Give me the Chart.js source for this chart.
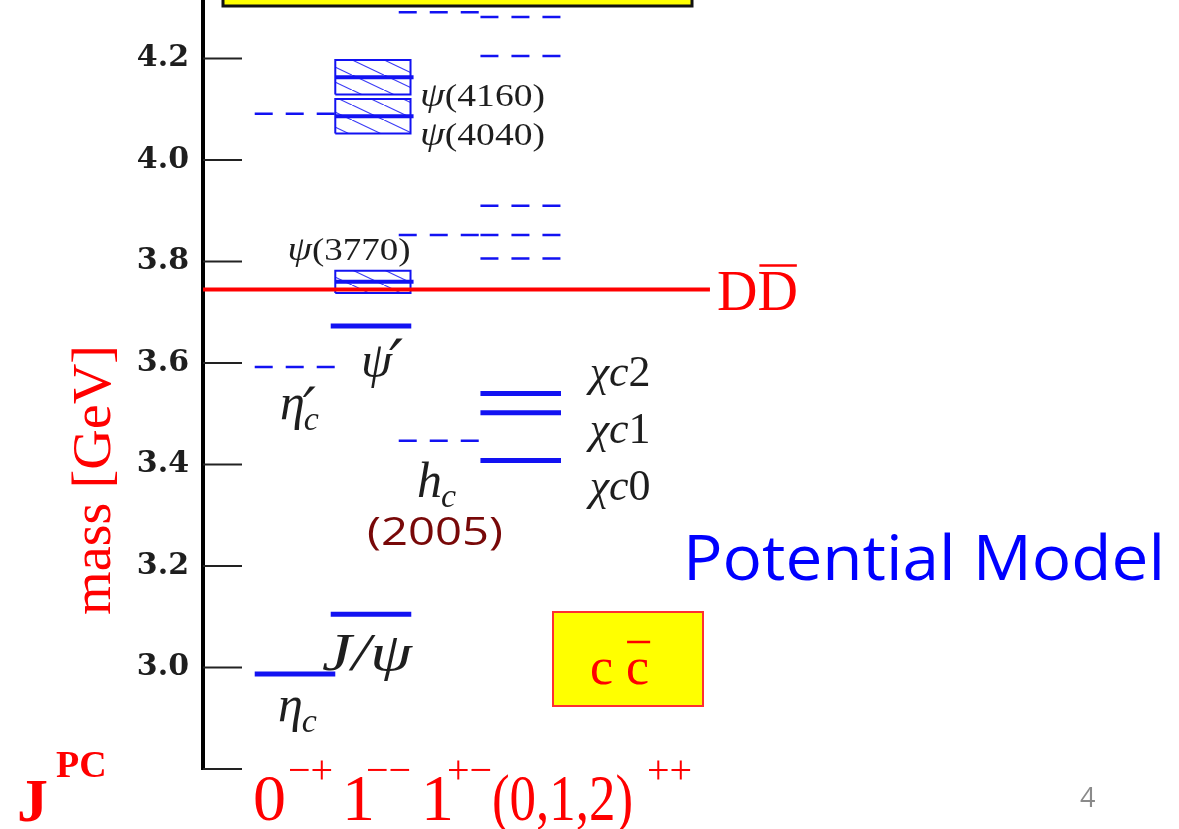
<!DOCTYPE html>
<html>
<head>
<meta charset="utf-8">
<script src="https://cdn.jsdelivr.net/npm/chart.js@4.4.1/dist/chart.umd.min.js"></script>
<style>
  html, body { margin: 0; padding: 0; background: #fff; }
  #wrap { width: 1179px; height: 829px; position: relative; }
</style>
</head>
<body>
<div id="wrap"><canvas id="spectrum"></canvas></div>
<script>
// mass axis
const tickValues = [2.8, 3.0, 3.2, 3.4, 3.6, 3.8, 4.0, 4.2];
const tickLabels = ['', '3.0', '3.2', '3.4', '3.6', '3.8', '4.0', '4.2'];

// observed narrow states (solid lines), column = J^PC group
const stateNames = ['etac', 'jpsi', 'psi2s', 'chic0', 'chic1', 'chic2'];
const stateColumn = [0, 1, 1, 3, 3, 3];
const stateMass = [2.987, 3.105, 3.673, 3.408, 3.502, 3.540];

// broad vector states above open charm, drawn as hatched boxes
const broadNames = ['psi3770', 'psi4040', 'psi4160'];
const broadMass = [3.760, 4.086, 4.163];
const broadHalfHeight = [0.022, 0.034, 0.034];

// potential model predictions (dashed lines)
const modelColumn = [0, 0, 2, 2, 2, 3, 3, 3, 3, 3];
const modelMass = [3.592, 4.091, 3.447, 3.852, 4.291, 3.806, 3.852, 3.910, 4.205, 4.282];

// D Dbar threshold
const thresholdMass = 3.745;

// layout of the J^PC columns along x
const colX = [0, 1, 1.895, 2.97];
const halfLen = 0.53;
const xMin = -1.2105, xMax = 11.6316;
const thresholdEnd = 5.46;

const BLUE = '#1212f2';
const RED = '#ff0000';
const INK = '#1e1e1e';

// diagonal hatch used inside the broad-state boxes
const tile = document.createElement('canvas');
tile.width = 32; tile.height = 15;
const tctx = tile.getContext('2d');
tctx.strokeStyle = 'rgba(25,25,245,0.85)';
tctx.lineWidth = 1.2;
tctx.beginPath();
tctx.moveTo(-2, -1); tctx.lineTo(34, 16);
tctx.stroke();
const hatch = tctx.createPattern(tile, 'repeat');

const line = (x0, x1, y, style) => Object.assign({
  data: [{x: x0, y: y}, {x: x1, y: y}],
  showLine: true, pointRadius: 0, fill: false, tension: 0
}, style);

const datasets = [];
datasets.push(line(xMin, thresholdEnd, thresholdMass, {borderColor: RED, borderWidth: 4}));

broadMass.forEach((m, i) => {
  const x0 = colX[1] - 0.47, x1 = colX[1] + 0.52, h = broadHalfHeight[i];
  datasets.push(line(x0, x1 + 0.04, m, {borderColor: BLUE, borderWidth: 4}));
  datasets.push({
    data: [{x: x0, y: m - h}, {x: x1, y: m - h}, {x: x1, y: m + h}, {x: x0, y: m + h}, {x: x0, y: m - h}],
    showLine: true, pointRadius: 0, tension: 0,
    borderColor: BLUE, borderWidth: 2,
    fill: 'shape', backgroundColor: hatch
  });
});

stateMass.forEach((m, i) => {
  const c = colX[stateColumn[i]];
  datasets.push(line(c - halfLen, c + halfLen, m, {borderColor: BLUE, borderWidth: 5}));
});

modelMass.forEach((m, i) => {
  const c = colX[modelColumn[i]];
  datasets.push(line(c - halfLen, c + halfLen, m, {borderColor: BLUE, borderWidth: 2.5, borderDash: [18, 13]}));
});

// text helper: draws s with its left edge (or centre) at x, optionally squeezed to a width
function put(ctx, s, x, y, font, color, align, fitW) {
  ctx.save();
  ctx.font = font;
  ctx.fillStyle = color;
  ctx.textBaseline = 'alphabetic';
  ctx.textAlign = 'left';
  const w = ctx.measureText(s).width;
  const k = fitW ? fitW / w : 1;
  const left = align === 'center' ? x - w * k / 2 : align === 'right' ? x - w * k : x;
  ctx.translate(left, y);
  ctx.scale(k, 1);
  ctx.fillText(s, 0, 0);
  ctx.restore();
  return left + w * k;
}

const it = size => 'italic ' + size + 'px "Liberation Serif"';
const rm = size => size + 'px "Liberation Serif"';
const bd = size => 'bold ' + size + 'px "Liberation Serif"';
const primeFont = size => 'italic ' + size + 'px "DejaVu Serif"';

const decor = {
  id: 'decor',
  beforeDatasetsDraw(chart) {
    const ctx = chart.ctx;
    ctx.save();
    // title box at the top edge
    ctx.fillStyle = '#ffff00';
    ctx.fillRect(223, -40, 469, 46);
    ctx.strokeStyle = '#111';
    ctx.lineWidth = 3;
    ctx.strokeRect(223, -40, 469, 46);
    // c cbar box
    ctx.fillRect(553, 612, 150, 94);
    ctx.strokeStyle = '#ff3030';
    ctx.lineWidth = 2;
    ctx.strokeRect(553, 612, 150, 94);
    ctx.restore();
  },
  afterDraw(chart) {
    const ctx = chart.ctx;
    const xs = chart.scales.x, ys = chart.scales.y;
    const X = v => xs.getPixelForValue(v);
    const Y = v => ys.getPixelForValue(v);
    const left = chart.chartArea.left;

    // inward tick marks
    ctx.save();
    ctx.strokeStyle = '#222';
    ctx.lineWidth = 2;
    tickValues.forEach(v => {
      ctx.beginPath();
      ctx.moveTo(left, Y(v));
      ctx.lineTo(left + 39, Y(v));
      ctx.stroke();
    });
    ctx.restore();

    const at = name => {
      const i = stateNames.indexOf(name);
      return [X(colX[stateColumn[i]]), Y(stateMass[i])];
    };
    const atModel = i => [X(colX[modelColumn[i]]), Y(modelMass[i])];
    const atBroad = name => {
      const i = broadNames.indexOf(name);
      return [X(colX[1]), Y(broadMass[i])];
    };

    let p, e;
    // eta_c
    p = at('etac');
    e = put(ctx, 'η', p[0] - 17, p[1] + 47, it(50), INK);
    put(ctx, 'c', e - 1, p[1] + 58, it(34), INK);
    // J/psi
    p = at('jpsi');
    put(ctx, 'J/ψ', p[0] - 4, p[1] + 56, it(52), INK, 'center', 90);
    // psi'
    p = at('psi2s');
    e = put(ctx, 'ψ', p[0] - 10, p[1] + 51, it(50), INK);
    put(ctx, '′', e - 3, p[1] + 58, primeFont(62), INK);
    // eta_c'
    p = atModel(0);
    e = put(ctx, 'η', p[0] - 15, p[1] + 52, it(50), INK);
    put(ctx, '′', e - 2, p[1] + 62, primeFont(58), INK);
    put(ctx, 'c', e - 1, p[1] + 63, it(34), INK);
    // h_c (2005)
    p = atModel(2);
    e = put(ctx, 'h', p[0] - 22, p[1] + 56, it(50), INK);
    put(ctx, 'c', e - 1, p[1] + 66, it(34), INK);
    put(ctx, '(2005)', p[0] - 4, p[1] + 104, '38px "Open Sans"', '#780808', 'center', 136);
    // chi_cJ
    ['chic2', 'chic1', 'chic0'].forEach((n, k) => {
      const q = at(n);
      const yb = [386, 443, 500][k];
      e = put(ctx, 'χ', q[0] + 69, yb, it(44), INK);
      e = put(ctx, 'c', e, yb, it(44), INK);
      put(ctx, String(2 - k), e, yb, rm(44), INK);
    });
    // broad psi states
    const psiLabel = (name, x, y, align, width) => {
      ctx.save();
      ctx.font = it(34);
      const w1 = ctx.measureText('ψ').width;
      ctx.font = rm(32);
      const w2 = ctx.measureText(name).width;
      ctx.restore();
      const k = width / (w1 + w2);
      const x0 = align === 'center' ? x - width / 2 : x;
      const e1 = put(ctx, 'ψ', x0, y, it(34), INK, 'left', w1 * k);
      put(ctx, name, e1, y, rm(32), INK, 'left', w2 * k);
    };
    p = atBroad('psi4160');
    psiLabel('(4160)', p[0] + 49, p[1] + 29, 'left', 125);
    p = atBroad('psi4040');
    psiLabel('(4040)', p[0] + 49, p[1] + 29, 'left', 125);
    p = atBroad('psi3770');
    psiLabel('(3770)', p[0] - 22, p[1] - 22, 'center', 123);

    // D Dbar
    const ty = Y(thresholdMass), tx = X(thresholdEnd);
    e = put(ctx, 'D', tx + 7, ty + 21, rm(56), RED);
    const e2 = put(ctx, 'D', e, ty + 21, rm(56), RED);
    ctx.save();
    ctx.strokeStyle = RED; ctx.lineWidth = 2.5;
    ctx.beginPath(); ctx.moveTo(e + 2, ty - 24); ctx.lineTo(e2 - 1, ty - 24); ctx.stroke();
    ctx.restore();

    // c cbar
    e = put(ctx, 'c', 590, 684, rm(52), RED);
    e = put(ctx, ' ', e, 684, rm(52), RED);
    const e3 = put(ctx, 'c', e, 684, rm(52), RED);
    ctx.save();
    ctx.strokeStyle = RED; ctx.lineWidth = 2.5;
    ctx.beginPath(); ctx.moveTo(e + 1, 642); ctx.lineTo(e3 + 1, 642); ctx.stroke();
    ctx.restore();

    put(ctx, 'Potential Model', 683, 580, '62px "Open Sans"', '#0000ff', 'left', 482);
    put(ctx, '4', 1080, 807, '27px "Open Sans"', '#8a8a8a');

    // axis title
    ctx.save();
    ctx.translate(110, 480);
    ctx.rotate(-Math.PI / 2);
    put(ctx, 'mass [GeV]', 0, 0, rm(54), RED, 'center', 270);
    ctx.restore();

    // J^PC row
    put(ctx, 'J', 17, 821, bd(62), RED);
    put(ctx, 'PC', 56, 777, bd(38), RED);
    const big = rm(66), sup = rm(40);
    put(ctx, '0', 253, 820, big, RED);
    put(ctx, '−+', 288, 783, sup, RED);
    put(ctx, '1', 342, 820, big, RED);
    put(ctx, '−−', 366, 783, sup, RED);
    put(ctx, '1', 421, 820, big, RED);
    put(ctx, '+−', 447, 783, sup, RED);
    put(ctx, '(0,1,2)', 492, 820, big, RED, 'left', 141);
    put(ctx, '++', 647, 783, sup, RED);
  }
};

new Chart(document.getElementById('spectrum'), {
  type: 'scatter',
  data: { datasets: datasets },
  options: {
    responsive: true,
    maintainAspectRatio: false,
    animation: false,
    events: [],
    layout: { padding: { left: 0, right: 0, top: 0, bottom: 60 } },
    plugins: { legend: { display: false }, tooltip: { enabled: false } },
    scales: {
      x: { type: 'linear', min: xMin, max: xMax, display: false },
      y: {
        type: 'linear', min: 2.8, max: 4.3153,
        afterBuildTicks: s => { s.ticks = tickValues.map(v => ({ value: v })); },
        afterFit: s => { s.width = 203; s.paddingTop = 0; s.paddingBottom = 0; },
        grid: { display: false },
        border: { display: true, color: '#000', width: 4 },
        ticks: {
          padding: 6,
          color: INK,
          font: { family: 'DejaVu Serif', weight: 'bold', size: 30 },
          callback: v => tickLabels[tickValues.findIndex(t => Math.abs(t - v) < 1e-6)]
        }
      }
    }
  },
  plugins: [decor]
});
</script>
</body>
</html>
